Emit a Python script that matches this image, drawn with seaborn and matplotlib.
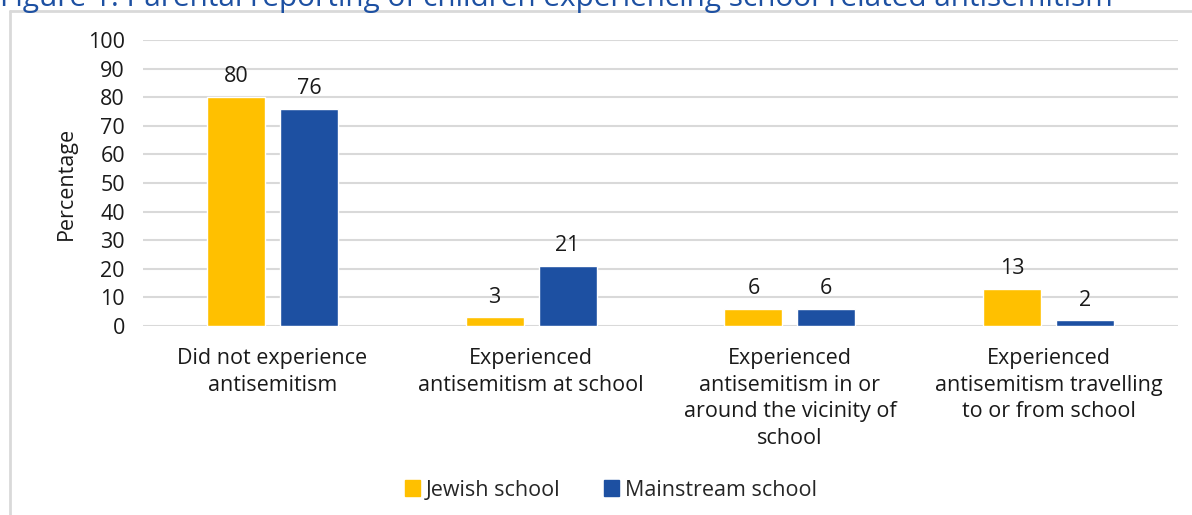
import matplotlib
matplotlib.use("Agg")
import matplotlib.pyplot as plt
import seaborn as sns
import pandas as pd
from matplotlib.patches import Rectangle

categories = [
    "Did not experience\nantisemitism",
    "Experienced\nantisemitism at school",
    "Experienced\nantisemitism in or\naround the vicinity of\nschool",
    "Experienced\nantisemitism travelling\nto or from school",
]
series_names = ["Jewish school", "Mainstream school"]
jewish = [80, 3, 6, 13]
mainstream = [76, 21, 6, 2]
y_ticks = [0, 10, 20, 30, 40, 50, 60, 70, 80, 90, 100]
title = "Figure 1: Parental reporting of children experiencing school-related antisemitism"

colors = ["#FFC000", "#1D50A2"]

df = pd.DataFrame({
    "category": categories * 2,
    "series": [series_names[0]] * 4 + [series_names[1]] * 4,
    "value": jewish + mainstream,
})

sns.set_theme(style="white")
plt.rcParams["font.family"] = ["Open Sans", "DejaVu Sans"]

W, H = 1192, 515
fig = plt.figure(figsize=(W / 100, H / 100), dpi=100)
ax = fig.add_axes([143 / W, (H - 326) / H, (1178 - 143) / W, (326 - 40) / H])

sns.barplot(data=df, x="category", y="value", hue="series", palette=colors,
            width=0.564, gap=0.205, ax=ax, legend=False, saturation=1,
            zorder=3)

ax.set_xlim(-0.5, 3.5)
ax.set_ylim(0, 100)
ax.set_yticks(y_ticks)
ax.set_yticklabels([str(t) for t in y_ticks], fontsize=15.5, color="#1a1a1a")
ax.grid(axis="y", color="#d9d9d9", linewidth=1.5, zorder=0)
ax.set_axisbelow(True)
for s in ax.spines.values():
    s.set_visible(False)
ax.tick_params(axis="y", length=0, pad=13)
ax.tick_params(axis="x", length=0, pad=16)
ax.set_xticks(range(len(categories)))
ax.set_xticklabels(categories, fontsize=15.5, color="#1a1a1a", linespacing=1.35)
ax.set_xlabel("")
ax.set_ylabel("Percentage", fontsize=15.5, color="#1a1a1a", labelpad=8)

for cont in ax.containers:
    ax.bar_label(cont, labels=[f"{v:.0f}" for v in cont.datavalues],
                 fontsize=15.5, color="#1a1a1a", padding=7)

# legend
handles = [Rectangle((0, 0), 1, 1, color=c) for c in colors]
fig.legend(handles, series_names, loc="center", bbox_to_anchor=(611 / W, (H - 490) / H),
           ncol=2, frameon=False, fontsize=15.5, handlelength=0.7, handleheight=0.7,
           handletextpad=0.3, columnspacing=2.0)

# frame
fig.add_artist(plt.Line2D([10 / W, 10 / W], [0, (H - 11) / H], color="#d9d9d9", linewidth=2,
                          transform=fig.transFigure))
fig.add_artist(plt.Line2D([10 / W, 1], [(H - 11) / H, (H - 11) / H], color="#d9d9d9", linewidth=2,
                          transform=fig.transFigure))

# title (partially cut off at top, as in the reference)
fig.text(0 / W, (H - 6) / H, title, fontsize=21.4, color="#1D50A2", va="baseline", ha="left")

fig.savefig("out.png", dpi=100)
